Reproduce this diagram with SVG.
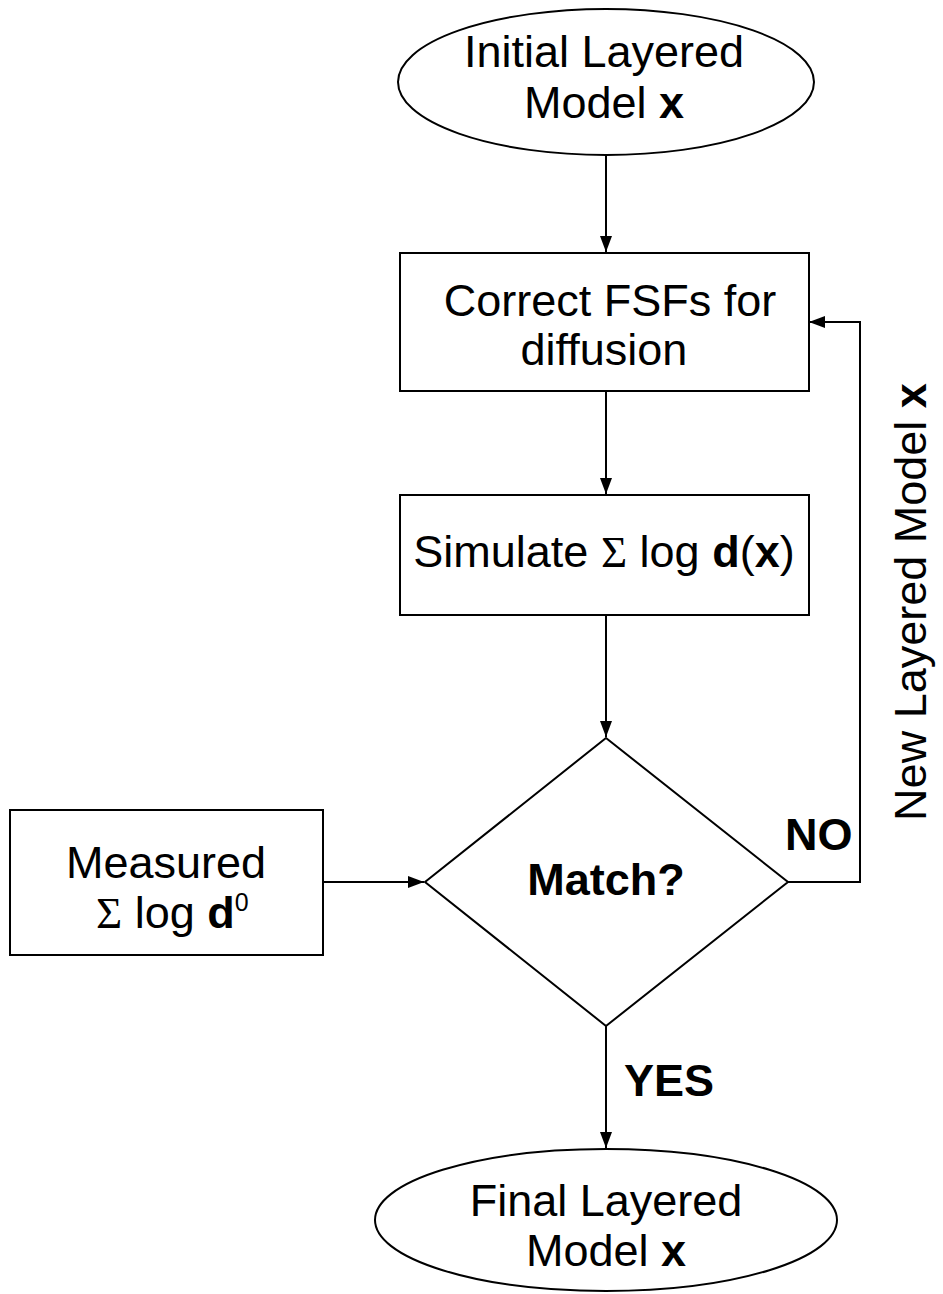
<svg xmlns="http://www.w3.org/2000/svg" width="943" height="1294" viewBox="0 0 943 1294">
  <style>
    .shape { fill: #ffffff; stroke: #000000; stroke-width: 2; }
    .line { fill: none; stroke: #000000; stroke-width: 2; }
    text { font-family: "Liberation Sans", Arial, sans-serif; font-size: 45px; fill: #000000; }
    .c { text-anchor: middle; }
    .b { font-weight: bold; }
    .sym { font-family: "Liberation Serif", "Times New Roman", serif; }
  </style>
  <defs>
    <marker id="arrow" markerWidth="16" markerHeight="12" refX="16" refY="6" orient="auto" markerUnits="userSpaceOnUse">
      <path d="M0,0 L16,6 L0,12 Z" fill="#000000"/>
    </marker>
  </defs>
  <rect width="943" height="1294" fill="#ffffff"/>

  <!-- connectors -->
  <g id="connectors">
    <path class="line" d="M606,155 L606,252" marker-end="url(#arrow)"/>
    <path class="line" d="M606,391 L606,494" marker-end="url(#arrow)"/>
    <path class="line" d="M606,615 L606,737" marker-end="url(#arrow)"/>
    <path class="line" d="M323,882 L424,882" marker-end="url(#arrow)"/>
    <path class="line" d="M788,882 L860,882 L860,322 L809,322" marker-end="url(#arrow)"/>
    <path class="line" d="M606,1026 L606,1148" marker-end="url(#arrow)"/>
    <text class="b" x="785" y="850">NO</text>
    <text class="b" x="624" y="1096">YES</text>
    <text transform="translate(926,602) rotate(-90)" class="c">New Layered Model <tspan class="b">x</tspan></text>
  </g>

  <!-- start -->
  <g id="initial-model">
    <ellipse class="shape" cx="606" cy="82" rx="208" ry="73"/>
    <text class="c" x="604" y="67">Initial Layered</text>
    <text class="c" x="604" y="118">Model <tspan class="b">x</tspan></text>
  </g>

  <g id="correct-fsfs">
    <rect class="shape" x="400" y="253" width="409" height="138"/>
    <text class="c" x="610" y="316">Correct FSFs for</text>
    <text class="c" x="604" y="365">diffusion</text>
  </g>

  <g id="simulate">
    <rect class="shape" x="400" y="495" width="409" height="120"/>
    <text class="c" x="604" y="567">Simulate <tspan class="sym">Σ</tspan> log <tspan class="b">d</tspan>(<tspan class="b">x</tspan>)</text>
  </g>

  <g id="measured">
    <rect class="shape" x="10" y="810" width="313" height="145"/>
    <text class="c" x="166" y="878">Measured</text>
    <text x="96" y="928"><tspan class="sym">Σ</tspan> log <tspan class="b">d</tspan><tspan font-size="25" dy="-17">0</tspan></text>
  </g>

  <g id="match">
    <polygon class="shape" points="606,738 788,882 606,1026 425,882"/>
    <text class="c b" x="606" y="895">Match?</text>
  </g>

  <!-- end -->
  <g id="final-model">
    <ellipse class="shape" cx="606" cy="1220" rx="231" ry="71"/>
    <text class="c" x="606" y="1216">Final Layered</text>
    <text class="c" x="606" y="1266">Model <tspan class="b">x</tspan></text>
  </g>
</svg>
